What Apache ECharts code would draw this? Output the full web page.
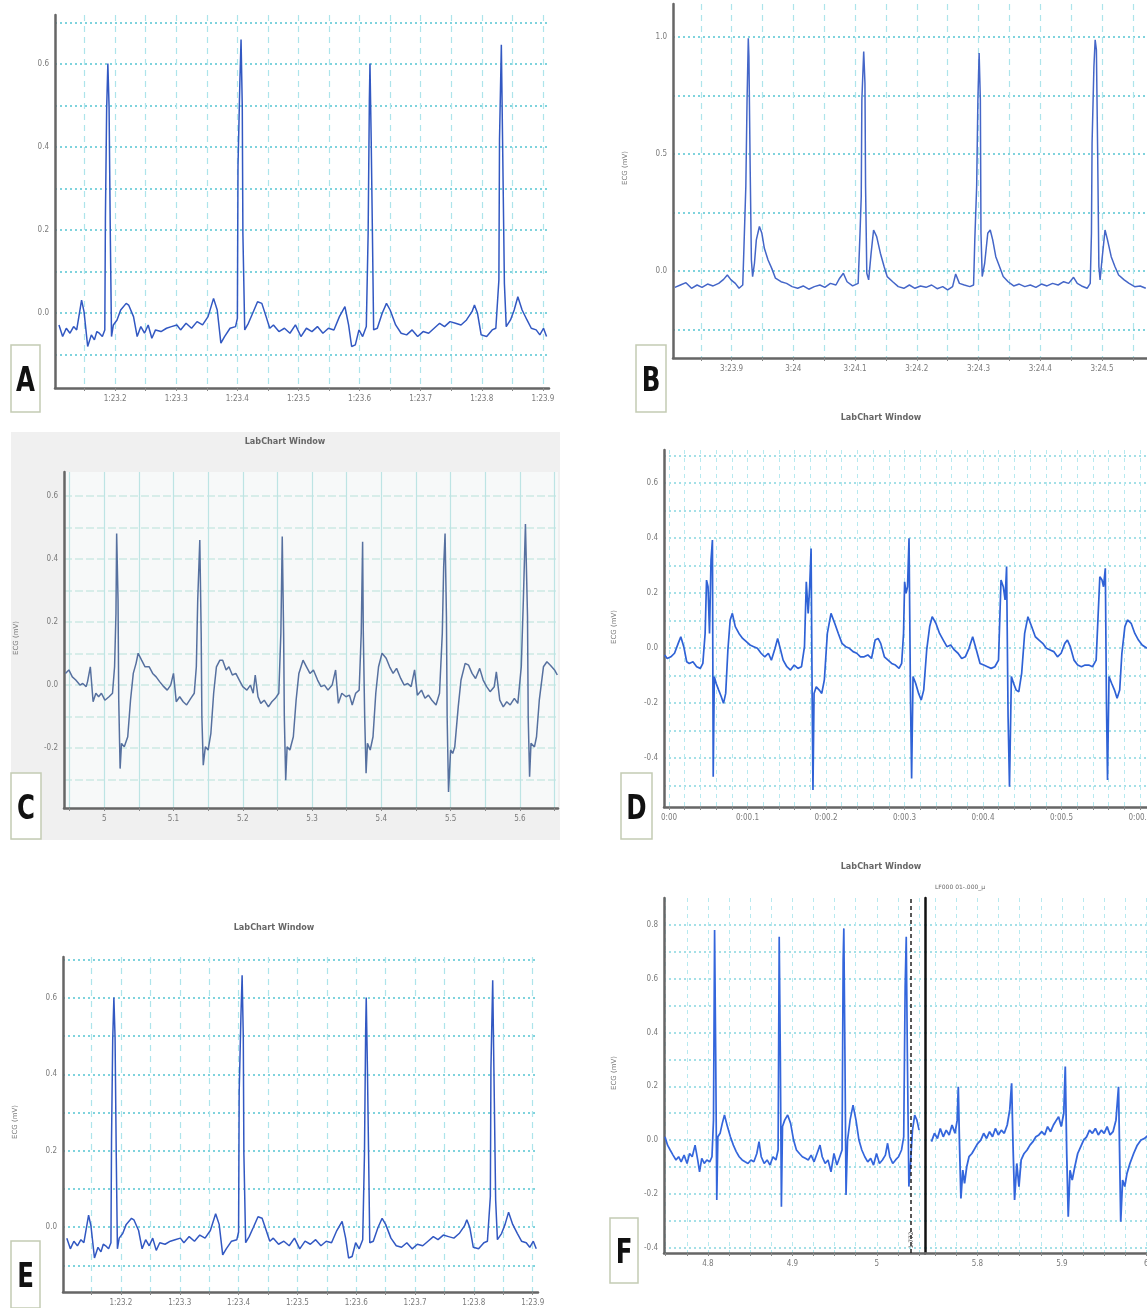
<!DOCTYPE html>
<html>
<head>
<meta charset="utf-8">
<title>LabChart ECG panels</title>
<script src="https://cdn.jsdelivr.net/npm/echarts@6/dist/echarts.min.js"></script>
<style>
  html, body { margin: 0; padding: 0; background: #fff; }
  #chart { width: 1147px; height: 1308px; }
</style>
</head>
<body>
<div id="chart"></div>
<script>
// traces: [time (s), voltage (mV)]
const ecgA = [[23.108,-0.029],[23.114,-0.057],[23.120,-0.037],[23.126,-0.049],[23.132,-0.033],[23.137,-0.041],[23.145,0.031],[23.149,0.003],[23.155,-0.081],[23.161,-0.053],[23.166,-0.065],[23.170,-0.045],[23.174,-0.049],[23.179,-0.057],[23.183,-0.041],[23.184,0.228],[23.186,0.489],[23.188,0.601],[23.190,0.497],[23.192,0.192],[23.194,-0.057],[23.197,-0.029],[23.203,-0.017],[23.209,0.007],[23.218,0.023],[23.222,0.019],[23.230,-0.009],[23.236,-0.057],[23.242,-0.033],[23.248,-0.049],[23.254,-0.029],[23.260,-0.061],[23.266,-0.041],[23.275,-0.045],[23.284,-0.037],[23.292,-0.033],[23.301,-0.029],[23.307,-0.041],[23.316,-0.025],[23.325,-0.037],[23.334,-0.021],[23.343,-0.029],[23.352,-0.009],[23.361,0.035],[23.367,0.007],[23.373,-0.073],[23.379,-0.057],[23.388,-0.037],[23.397,-0.033],[23.400,-0.013],[23.401,0.353],[23.404,0.553],[23.406,0.659],[23.408,0.497],[23.409,0.192],[23.412,-0.041],[23.418,-0.025],[23.425,-0.001],[23.433,0.027],[23.440,0.023],[23.447,-0.009],[23.453,-0.037],[23.459,-0.029],[23.468,-0.045],[23.477,-0.037],[23.486,-0.049],[23.495,-0.029],[23.504,-0.057],[23.513,-0.037],[23.522,-0.045],[23.531,-0.033],[23.540,-0.049],[23.549,-0.037],[23.558,-0.041],[23.567,-0.009],[23.576,0.015],[23.582,-0.029],[23.587,-0.081],[23.593,-0.077],[23.599,-0.041],[23.605,-0.057],[23.611,-0.033],[23.614,0.192],[23.616,0.513],[23.617,0.601],[23.619,0.417],[23.621,0.192],[23.623,-0.041],[23.629,-0.037],[23.637,-0.001],[23.644,0.023],[23.650,0.007],[23.659,-0.029],[23.668,-0.049],[23.677,-0.053],[23.686,-0.041],[23.695,-0.057],[23.704,-0.045],[23.713,-0.049],[23.722,-0.037],[23.731,-0.025],[23.739,-0.033],[23.748,-0.021],[23.757,-0.025],[23.766,-0.029],[23.775,-0.017],[23.784,0.003],[23.788,0.019],[23.793,-0.001],[23.799,-0.053],[23.808,-0.057],[23.817,-0.041],[23.823,-0.037],[23.828,0.080],[23.829,0.417],[23.832,0.646],[23.834,0.417],[23.837,0.071],[23.840,-0.033],[23.847,-0.017],[23.853,0.007],[23.859,0.039],[23.866,0.007],[23.874,-0.017],[23.881,-0.037],[23.889,-0.041],[23.895,-0.053],[23.901,-0.037],[23.906,-0.057]];

const ecgB = [[203.808,-0.070],[203.817,-0.060],[203.826,-0.050],[203.835,-0.074],[203.844,-0.060],[203.852,-0.070],[203.861,-0.056],[203.870,-0.064],[203.879,-0.053],[203.887,-0.036],[203.893,-0.017],[203.899,-0.038],[203.906,-0.053],[203.912,-0.074],[203.918,-0.060],[203.920,0.104],[203.923,0.361],[203.925,0.731],[203.927,0.995],[203.928,0.916],[203.930,0.446],[203.932,0.047],[203.934,-0.024],[203.937,0.033],[203.940,0.133],[203.945,0.190],[203.949,0.161],[203.953,0.097],[203.959,0.047],[203.965,0.011],[203.971,-0.031],[203.980,-0.046],[203.989,-0.053],[203.998,-0.067],[204.007,-0.074],[204.016,-0.064],[204.025,-0.078],[204.034,-0.067],[204.043,-0.060],[204.051,-0.070],[204.060,-0.053],[204.069,-0.060],[204.075,-0.031],[204.081,-0.010],[204.087,-0.046],[204.096,-0.064],[204.105,-0.053],[204.108,0.161],[204.110,0.318],[204.111,0.731],[204.114,0.938],[204.116,0.802],[204.117,0.361],[204.119,-0.010],[204.122,-0.038],[204.126,0.076],[204.130,0.175],[204.135,0.147],[204.141,0.076],[204.147,0.019],[204.152,-0.024],[204.161,-0.046],[204.170,-0.067],[204.179,-0.074],[204.188,-0.060],[204.197,-0.074],[204.206,-0.064],[204.215,-0.070],[204.224,-0.060],[204.233,-0.076],[204.242,-0.067],[204.250,-0.081],[204.258,-0.067],[204.263,-0.013],[204.269,-0.053],[204.277,-0.060],[204.286,-0.067],[204.292,-0.060],[204.294,0.133],[204.297,0.361],[204.299,0.731],[204.301,0.931],[204.303,0.731],[204.304,0.161],[204.306,-0.024],[204.310,0.033],[204.315,0.161],[204.319,0.175],[204.323,0.133],[204.328,0.061],[204.334,0.019],[204.340,-0.024],[204.348,-0.046],[204.357,-0.064],[204.366,-0.056],[204.375,-0.067],[204.384,-0.060],[204.393,-0.070],[204.402,-0.056],[204.411,-0.064],[204.420,-0.053],[204.429,-0.060],[204.438,-0.046],[204.446,-0.053],[204.454,-0.027],[204.460,-0.053],[204.467,-0.064],[204.476,-0.074],[204.481,-0.053],[204.483,0.161],[204.484,0.546],[204.487,0.874],[204.489,0.988],[204.491,0.945],[204.493,0.517],[204.495,0.019],[204.497,-0.038],[204.500,0.047],[204.505,0.175],[204.509,0.133],[204.515,0.061],[204.521,0.019],[204.527,-0.017],[204.536,-0.038],[204.544,-0.053],[204.553,-0.067],[204.562,-0.064],[204.571,-0.074]];

const ecgC = [[4.944,0.037],[4.949,0.048],[4.954,0.026],[4.959,0.016],[4.965,0.0],[4.969,0.005],[4.974,-0.005],[4.976,0.011],[4.980,0.058],[4.984,-0.053],[4.988,-0.026],[4.992,-0.037],[4.996,-0.026],[5.001,-0.048],[5.007,-0.037],[5.012,-0.026],[5.015,0.058],[5.017,0.227],[5.018,0.481],[5.020,0.270],[5.021,-0.048],[5.023,-0.265],[5.025,-0.185],[5.029,-0.196],[5.034,-0.164],[5.038,-0.048],[5.042,0.037],[5.046,0.069],[5.049,0.101],[5.054,0.079],[5.059,0.058],[5.065,0.058],[5.070,0.037],[5.075,0.026],[5.080,0.011],[5.086,-0.005],[5.091,-0.016],[5.096,0.0],[5.100,0.037],[5.104,-0.053],[5.109,-0.037],[5.114,-0.053],[5.119,-0.063],[5.125,-0.042],[5.130,-0.026],[5.133,0.058],[5.135,0.270],[5.138,0.460],[5.140,0.164],[5.141,-0.101],[5.143,-0.254],[5.146,-0.196],[5.150,-0.206],[5.154,-0.153],[5.158,-0.026],[5.162,0.058],[5.167,0.079],[5.171,0.079],[5.176,0.048],[5.180,0.058],[5.185,0.032],[5.190,0.037],[5.195,0.016],[5.200,-0.005],[5.206,-0.016],[5.211,0.0],[5.215,-0.026],[5.218,0.032],[5.222,-0.037],[5.226,-0.058],[5.231,-0.048],[5.237,-0.069],[5.242,-0.053],[5.247,-0.042],[5.252,-0.026],[5.255,0.164],[5.257,0.471],[5.259,0.164],[5.260,-0.101],[5.262,-0.302],[5.264,-0.196],[5.268,-0.206],[5.273,-0.164],[5.277,-0.048],[5.281,0.037],[5.287,0.079],[5.292,0.058],[5.297,0.037],[5.302,0.048],[5.308,0.016],[5.313,-0.005],[5.318,0.0],[5.323,-0.016],[5.329,0.0],[5.334,0.048],[5.338,-0.058],[5.343,-0.026],[5.349,-0.037],[5.354,-0.032],[5.358,-0.063],[5.363,-0.026],[5.368,-0.016],[5.371,0.164],[5.373,0.455],[5.374,0.164],[5.376,-0.101],[5.378,-0.280],[5.380,-0.185],[5.384,-0.206],[5.388,-0.164],[5.392,-0.026],[5.396,0.058],[5.401,0.101],[5.407,0.085],[5.412,0.058],[5.417,0.037],[5.422,0.053],[5.428,0.021],[5.433,0.0],[5.438,0.005],[5.443,-0.005],[5.448,0.048],[5.452,-0.032],[5.458,-0.016],[5.463,-0.042],[5.468,-0.032],[5.473,-0.048],[5.479,-0.063],[5.484,-0.026],[5.488,0.164],[5.490,0.376],[5.492,0.481],[5.494,0.217],[5.495,-0.101],[5.497,-0.339],[5.500,-0.206],[5.503,-0.217],[5.506,-0.196],[5.511,-0.069],[5.515,0.016],[5.521,0.069],[5.526,0.063],[5.531,0.037],[5.536,0.021],[5.542,0.053],[5.547,0.016],[5.552,-0.005],[5.557,-0.021],[5.563,-0.005],[5.566,0.042],[5.571,-0.048],[5.576,-0.069],[5.581,-0.053],[5.586,-0.063],[5.592,-0.042],[5.597,-0.058],[5.602,0.058],[5.605,0.270],[5.608,0.511],[5.611,0.217],[5.612,-0.101],[5.614,-0.291],[5.616,-0.185],[5.621,-0.196],[5.624,-0.164],[5.628,-0.048],[5.634,0.058],[5.639,0.074],[5.644,0.063],[5.650,0.048],[5.654,0.032]];

const ecgD = [[-0.0056,-0.025],[-0.0023,-0.038],[0.0023,-0.032],[0.0070,-0.019],[0.0117,0.017],[0.0150,0.041],[0.0188,0.005],[0.0225,-0.050],[0.0258,-0.056],[0.0305,-0.050],[0.0352,-0.068],[0.0399,-0.074],[0.0431,-0.056],[0.0460,0.053],[0.0478,0.247],[0.0497,0.223],[0.0516,0.053],[0.0535,0.320],[0.0553,0.393],[0.0563,-0.468],[0.0577,-0.104],[0.0600,-0.128],[0.0633,-0.153],[0.0666,-0.177],[0.0694,-0.201],[0.0722,-0.165],[0.0750,-0.007],[0.0779,0.102],[0.0807,0.126],[0.0844,0.078],[0.0891,0.053],[0.0938,0.035],[0.0985,0.023],[0.1032,0.011],[0.1079,0.005],[0.1126,-0.001],[0.1173,-0.019],[0.1220,-0.032],[0.1266,-0.019],[0.1304,-0.044],[0.1351,-0.001],[0.1384,0.035],[0.1416,-0.001],[0.1454,-0.044],[0.1501,-0.068],[0.1548,-0.080],[0.1595,-0.062],[0.1642,-0.074],[0.1688,-0.068],[0.1726,0.005],[0.1749,0.241],[0.1773,0.126],[0.1792,0.223],[0.1810,0.362],[0.1824,-0.189],[0.1834,-0.516],[0.1848,-0.165],[0.1876,-0.141],[0.1914,-0.153],[0.1946,-0.165],[0.1979,-0.116],[0.2017,0.053],[0.2064,0.126],[0.2111,0.090],[0.2157,0.053],[0.2204,0.017],[0.2251,0.005],[0.2298,-0.001],[0.2345,-0.013],[0.2392,-0.019],[0.2439,-0.032],[0.2486,-0.032],[0.2533,-0.025],[0.2580,-0.038],[0.2626,0.029],[0.2664,0.035],[0.2697,0.017],[0.2744,-0.032],[0.2791,-0.044],[0.2837,-0.056],[0.2884,-0.062],[0.2931,-0.074],[0.2964,-0.056],[0.2988,0.053],[0.3002,0.241],[0.3020,0.199],[0.3039,0.223],[0.3058,0.399],[0.3077,-0.189],[0.3091,-0.474],[0.3109,-0.104],[0.3142,-0.128],[0.3180,-0.165],[0.3213,-0.189],[0.3245,-0.153],[0.3283,-0.007],[0.3321,0.078],[0.3353,0.114],[0.3400,0.090],[0.3447,0.053],[0.3494,0.029],[0.3541,0.005],[0.3588,0.011],[0.3635,-0.007],[0.3682,-0.019],[0.3729,-0.038],[0.3775,-0.032],[0.3822,-0.001],[0.3869,0.041],[0.3916,-0.007],[0.3963,-0.056],[0.4010,-0.062],[0.4057,-0.068],[0.4104,-0.074],[0.4151,-0.068],[0.4198,-0.044],[0.4230,0.247],[0.4259,0.223],[0.4282,0.175],[0.4301,0.296],[0.4320,-0.250],[0.4338,-0.504],[0.4362,-0.104],[0.4390,-0.128],[0.4423,-0.153],[0.4456,-0.159],[0.4493,-0.092],[0.4531,0.053],[0.4573,0.114],[0.4620,0.078],[0.4667,0.041],[0.4714,0.029],[0.4761,0.017],[0.4808,-0.001],[0.4855,-0.007],[0.4902,-0.013],[0.4949,-0.032],[0.4996,-0.019],[0.5043,0.017],[0.5076,0.029],[0.5113,0.005],[0.5160,-0.044],[0.5207,-0.062],[0.5254,-0.068],[0.5301,-0.062],[0.5348,-0.062],[0.5395,-0.068],[0.5442,-0.044],[0.5489,0.259],[0.5517,0.247],[0.5536,0.223],[0.5559,0.290],[0.5573,-0.189],[0.5587,-0.480],[0.5606,-0.104],[0.5639,-0.128],[0.5676,-0.153],[0.5709,-0.183],[0.5742,-0.153],[0.5770,-0.019],[0.5808,0.078],[0.5841,0.102],[0.5888,0.090],[0.5935,0.053],[0.5981,0.029],[0.6028,0.011],[0.6089,-0.001]];

// panel E shows the same recording window as panel A
const ecgE = ecgA;

const ecgF1 = [[4.7492,0.012],[4.7522,-0.019],[4.7553,-0.037],[4.7587,-0.056],[4.7622,-0.074],[4.7653,-0.062],[4.7683,-0.081],[4.7718,-0.056],[4.7753,-0.087],[4.7783,-0.050],[4.7814,-0.062],[4.7848,-0.019],[4.7879,-0.074],[4.7901,-0.118],[4.7927,-0.068],[4.7957,-0.087],[4.7987,-0.074],[4.8022,-0.081],[4.8048,-0.062],[4.8066,0.074],[4.8079,0.781],[4.8092,0.322],[4.8105,-0.223],[4.8118,0.012],[4.8144,0.025],[4.8170,0.062],[4.8196,0.093],[4.8231,0.050],[4.8266,0.012],[4.8301,-0.019],[4.8335,-0.043],[4.8370,-0.062],[4.8405,-0.074],[4.8440,-0.081],[4.8474,-0.087],[4.8509,-0.074],[4.8544,-0.081],[4.8579,-0.050],[4.8605,-0.006],[4.8631,-0.062],[4.8666,-0.087],[4.8701,-0.074],[4.8735,-0.093],[4.8770,-0.062],[4.8805,-0.074],[4.8831,-0.037],[4.8844,0.756],[4.8857,0.322],[4.8870,-0.248],[4.8883,0.050],[4.8909,0.074],[4.8944,0.093],[4.8979,0.062],[4.9014,0.0],[4.9048,-0.037],[4.9083,-0.050],[4.9118,-0.062],[4.9153,-0.068],[4.9188,-0.074],[4.9222,-0.056],[4.9257,-0.081],[4.9292,-0.050],[4.9327,-0.019],[4.9353,-0.062],[4.9388,-0.087],[4.9422,-0.074],[4.9457,-0.118],[4.9492,-0.050],[4.9527,-0.093],[4.9561,-0.062],[4.9588,-0.037],[4.9601,0.669],[4.9609,0.787],[4.9622,0.322],[4.9635,-0.204],[4.9653,0.0],[4.9683,0.074],[4.9718,0.130],[4.9753,0.074],[4.9788,0.0],[4.9822,-0.037],[4.9857,-0.062],[4.9892,-0.081],[4.9927,-0.068],[4.9961,-0.093],[4.9996,-0.050],[5.0031,-0.087],[5.0066,-0.074],[5.0101,-0.056],[5.0127,-0.012],[5.0153,-0.062],[5.0188,-0.087],[5.0222,-0.074],[5.0257,-0.062],[5.0292,-0.037],[5.0318,0.012],[5.0335,0.570],[5.0348,0.756],[5.0361,0.322],[5.0379,-0.173],[5.0396,-0.099],[5.0422,0.037],[5.0448,0.093],[5.0474,0.074],[5.0500,0.037]];

const ecgF2 = [[5.7457,-0.006],[5.7492,0.025],[5.7527,0.006],[5.7561,0.043],[5.7596,0.012],[5.7631,0.037],[5.7666,0.019],[5.7700,0.056],[5.7735,0.025],[5.7761,0.074],[5.7774,0.198],[5.7787,0.0],[5.7805,-0.217],[5.7827,-0.112],[5.7848,-0.161],[5.7874,-0.099],[5.7901,-0.062],[5.7935,-0.050],[5.7970,-0.031],[5.8005,-0.012],[5.8040,0.0],[5.8074,0.025],[5.8109,0.006],[5.8144,0.031],[5.8179,0.012],[5.8213,0.043],[5.8248,0.019],[5.8283,0.037],[5.8318,0.025],[5.8353,0.056],[5.8383,0.112],[5.8405,0.211],[5.8422,-0.025],[5.8440,-0.223],[5.8466,-0.087],[5.8492,-0.173],[5.8518,-0.074],[5.8553,-0.050],[5.8588,-0.037],[5.8622,-0.019],[5.8657,-0.006],[5.8692,0.012],[5.8727,0.019],[5.8761,0.031],[5.8796,0.019],[5.8831,0.050],[5.8866,0.031],[5.8900,0.056],[5.8935,0.074],[5.8961,0.087],[5.8992,0.050],[5.9022,0.099],[5.9040,0.273],[5.9057,-0.050],[5.9075,-0.285],[5.9096,-0.112],[5.9122,-0.149],[5.9153,-0.099],[5.9187,-0.050],[5.9222,-0.025],[5.9257,0.0],[5.9292,0.012],[5.9327,0.037],[5.9361,0.025],[5.9396,0.043],[5.9431,0.019],[5.9466,0.037],[5.9500,0.025],[5.9535,0.050],[5.9570,0.019],[5.9605,0.031],[5.9640,0.074],[5.9670,0.198],[5.9683,-0.050],[5.9696,-0.304],[5.9718,-0.149],[5.9744,-0.173],[5.9770,-0.124],[5.9805,-0.087],[5.9849,-0.050],[5.9892,-0.019],[5.9936,0.0],[5.9979,0.006],[6.0023,0.019]];

const fCursor = 5.0435; // dashed cursor in panel F
const panelLetters = ['A', 'B', 'C', 'D', 'E', 'F'];
const windowTitle = 'LabChart Window';

const axisGray = '#666';
const labelGray = '#7a7a7a';

const isStep = (v, step) => Math.abs(v / step - Math.round(v / step)) < 1e-6;
const trim = v => (isStep(v, 1) ? v.toFixed(0) : v.toFixed(1));

// x label formats as LabChart prints them
const fmtA = v => '1:' + v.toFixed(1);
const fmtB = v => '3:' + trim(v - 180);
const fmtC = v => trim(v);
const fmtD = v => (isStep(v, 1) ? '0:00' : '0:00.' + Math.round(v * 10));

// grid line looks
const dotH = { color: '#7fd3dd', width: 2, type: [2, 3] };
const dashV = { color: '#ade4eb', width: 1.2, type: [6, 5] };
const cH = { color: '#cde9e3', width: 1.5, type: [8, 3] };
const cV = { color: '#bde4e4', width: 1.2 };
const fineH = { color: '#86d6e0', width: 1.6, type: [2, 3] };
const fineV = { color: '#b7e9ef', width: 1, type: [4, 4] };

function makeX(o) {
  return {
    type: 'value', gridIndex: o.grid, min: o.min, max: o.max,
    minInterval: o.step, maxInterval: o.step,
    axisLine: { show: true, onZero: false, lineStyle: { color: axisGray, width: 2.5 } },
    axisTick: { show: true, length: 3, lineStyle: { color: '#888' } },
    axisLabel: {
      showMinLabel: false, showMaxLabel: false, fontSize: 8, color: labelGray, margin: 7,
      fontFamily: 'DejaVu Sans Condensed, sans-serif',
      formatter: v => (isStep(v, o.labelStep) ? o.fmt(v) : '')
    },
    splitLine: { show: true, showMinLine: false, showMaxLine: false, lineStyle: o.line }
  };
}

function makeY(o) {
  return {
    type: 'value', gridIndex: o.grid, min: o.min, max: o.max,
    minInterval: o.step, maxInterval: o.step,
    axisLine: { show: true, onZero: false, lineStyle: { color: o.axisColor || axisGray, width: 2.5 } },
    axisTick: { show: false },
    axisLabel: {
      show: o.labels !== false, showMinLabel: false, showMaxLabel: false,
      fontSize: 8, color: labelGray, margin: 6,
      fontFamily: 'DejaVu Sans Condensed, sans-serif',
      formatter: v => (isStep(v, o.labelStep) ? v.toFixed(1) : '')
    },
    splitLine: { show: true, showMinLine: false, showMaxLine: false, lineStyle: o.line }
  };
}

function trace(i, data, color, extra) {
  return Object.assign({
    type: 'line', xAxisIndex: i, yAxisIndex: i, data: data,
    showSymbol: false, symbol: 'none', clip: true,
    lineStyle: { color: color, width: 1.5 }
  }, extra || {});
}

const grids = [
  { left: 55, top: 15, width: 494, height: 373 },   // A
  { left: 673, top: 4, width: 474, height: 354 },   // B
  { left: 64, top: 472, width: 494, height: 336, show: true, backgroundColor: '#f7f9f9', borderWidth: 0 }, // C
  { left: 664, top: 450, width: 483, height: 357 }, // D
  { left: 63, top: 957, width: 475, height: 335 },  // E
  { left: 664, top: 898, width: 261, height: 355 }, // F before the break
  { left: 925, top: 898, width: 222, height: 355 }  // F after the break
].map(g => Object.assign({ outerBoundsMode: 'none', containLabel: false }, g));

const xAxes = [
  makeX({ grid: 0, min: 23.1015, max: 23.91, step: 0.05, labelStep: 0.1, fmt: fmtA, line: dashV }),
  makeX({ grid: 1, min: 203.805, max: 204.573, step: 0.05, labelStep: 0.1, fmt: fmtB, line: dashV }),
  makeX({ grid: 2, min: 4.942, max: 5.655, step: 0.05, labelStep: 0.1, fmt: fmtC, line: cV }),
  makeX({ grid: 3, min: -0.0064, max: 0.609, step: 0.02, labelStep: 0.1, fmt: fmtD, line: fineV }),
  makeX({ grid: 4, min: 23.1015, max: 23.909, step: 0.05, labelStep: 0.1, fmt: fmtA, line: dashV }),
  makeX({ grid: 5, min: 4.748, max: 5.057, step: 0.025, labelStep: 0.1, fmt: fmtC, line: fineV }),
  makeX({ grid: 6, min: 5.738, max: 6.0007, step: 0.025, labelStep: 0.1, fmt: fmtC, line: fineV })
];

const yAxes = [
  makeY({ grid: 0, min: -0.181, max: 0.718, step: 0.1, labelStep: 0.2, line: dotH }),
  makeY({ grid: 1, min: -0.372, max: 1.141, step: 0.25, labelStep: 0.5, line: dotH }),
  makeY({ grid: 2, min: -0.39, max: 0.676, step: 0.1, labelStep: 0.2, line: cH }),
  makeY({ grid: 3, min: -0.578, max: 0.72, step: 0.1, labelStep: 0.2, line: fineH }),
  makeY({ grid: 4, min: -0.17, max: 0.707, step: 0.1, labelStep: 0.2, line: dotH }),
  makeY({ grid: 5, min: -0.42, max: 0.9, step: 0.1, labelStep: 0.2, line: fineH }),
  makeY({ grid: 6, min: -0.42, max: 0.9, step: 0.1, labelStep: 0.2, line: fineH, labels: false, axisColor: '#111' })
];

const series = [
  trace(0, ecgA, '#3258c2'),
  trace(1, ecgB, '#4466c8'),
  trace(2, ecgC, '#56709f'),
  trace(3, ecgD, '#2f62d6', { lineStyle: { color: '#2f62d6', width: 1.7 } }),
  trace(4, ecgE, '#3258c2'),
  trace(5, ecgF1, '#3466dc', {
    lineStyle: { color: '#3466dc', width: 1.7 },
    markLine: {
      silent: true, symbol: 'none', animation: false,
      label: { show: false },
      lineStyle: { color: '#222', type: [4, 3], width: 1.5 },
      data: [{ xAxis: fCursor }]
    }
  }),
  trace(6, ecgF2, '#3466dc', { lineStyle: { color: '#3466dc', width: 1.8 } })
];

// letter boxes and captions around the panels
const letterBoxes = [
  [11, 345, 29, 67], [636, 345, 30, 67], [11, 773, 30, 66],
  [621, 773, 31, 66], [11, 1241, 29, 67], [610, 1218, 28, 65]
];
const letterFont = 'bold 34px "Liberation Sans Narrow", "DejaVu Sans Condensed", sans-serif';

const graphics = [
  { type: 'rect', z: -10, shape: { x: 11, y: 432, width: 549, height: 408 }, style: { fill: '#f0f0f0' } }
];

letterBoxes.forEach((b, i) => {
  graphics.push({
    type: 'rect', shape: { x: b[0], y: b[1], width: b[2], height: b[3] },
    style: { fill: '#fff', stroke: '#c4cbb4', lineWidth: 1.5 }
  });
  graphics.push({
    type: 'text', x: b[0] + b[2] / 2, y: b[1] + b[3] / 2 + 4, scaleX: 0.8,
    style: {
      text: panelLetters[i], font: letterFont, fill: '#111',
      textAlign: 'center', textVerticalAlign: 'middle', align: 'center', verticalAlign: 'middle'
    }
  });
});

[[285, 442], [881, 418], [274, 928], [881, 867]].forEach(p => {
  graphics.push({
    type: 'text', x: p[0], y: p[1],
    style: {
      text: windowTitle, font: 'bold 9px "DejaVu Sans Condensed", sans-serif', fill: '#666',
      textAlign: 'center', textVerticalAlign: 'middle', align: 'center', verticalAlign: 'middle'
    }
  });
});

// rotated channel names beside the y axes
[[625, 168], [16, 638], [614, 627], [15, 1122], [614, 1073]].forEach(p => {
  graphics.push({
    type: 'text', x: p[0], y: p[1], rotation: Math.PI / 2,
    style: {
      text: 'ECG (mV)', font: '7px "DejaVu Sans", sans-serif', fill: '#777',
      textAlign: 'center', textVerticalAlign: 'middle', align: 'center', verticalAlign: 'middle'
    }
  });
});

graphics.push({
  type: 'text', x: 935, y: 887,
  style: { text: 'LF000 01-.000_μ', font: '6px "DejaVu Sans", sans-serif', fill: '#666', textVerticalAlign: 'middle', verticalAlign: 'middle' }
});
graphics.push({
  type: 'text', x: 908, y: 1240, rotation: Math.PI / 2,
  style: { text: '1.772', font: '6px "DejaVu Sans", sans-serif', fill: '#555', textAlign: 'center', align: 'center' }
});

const chart = echarts.init(document.getElementById('chart'), null, { renderer: 'canvas' });
chart.setOption({
  animation: false,
  backgroundColor: '#fff',
  grid: grids,
  xAxis: xAxes,
  yAxis: yAxes,
  series: series,
  graphic: graphics
});
</script>
</body>
</html>
